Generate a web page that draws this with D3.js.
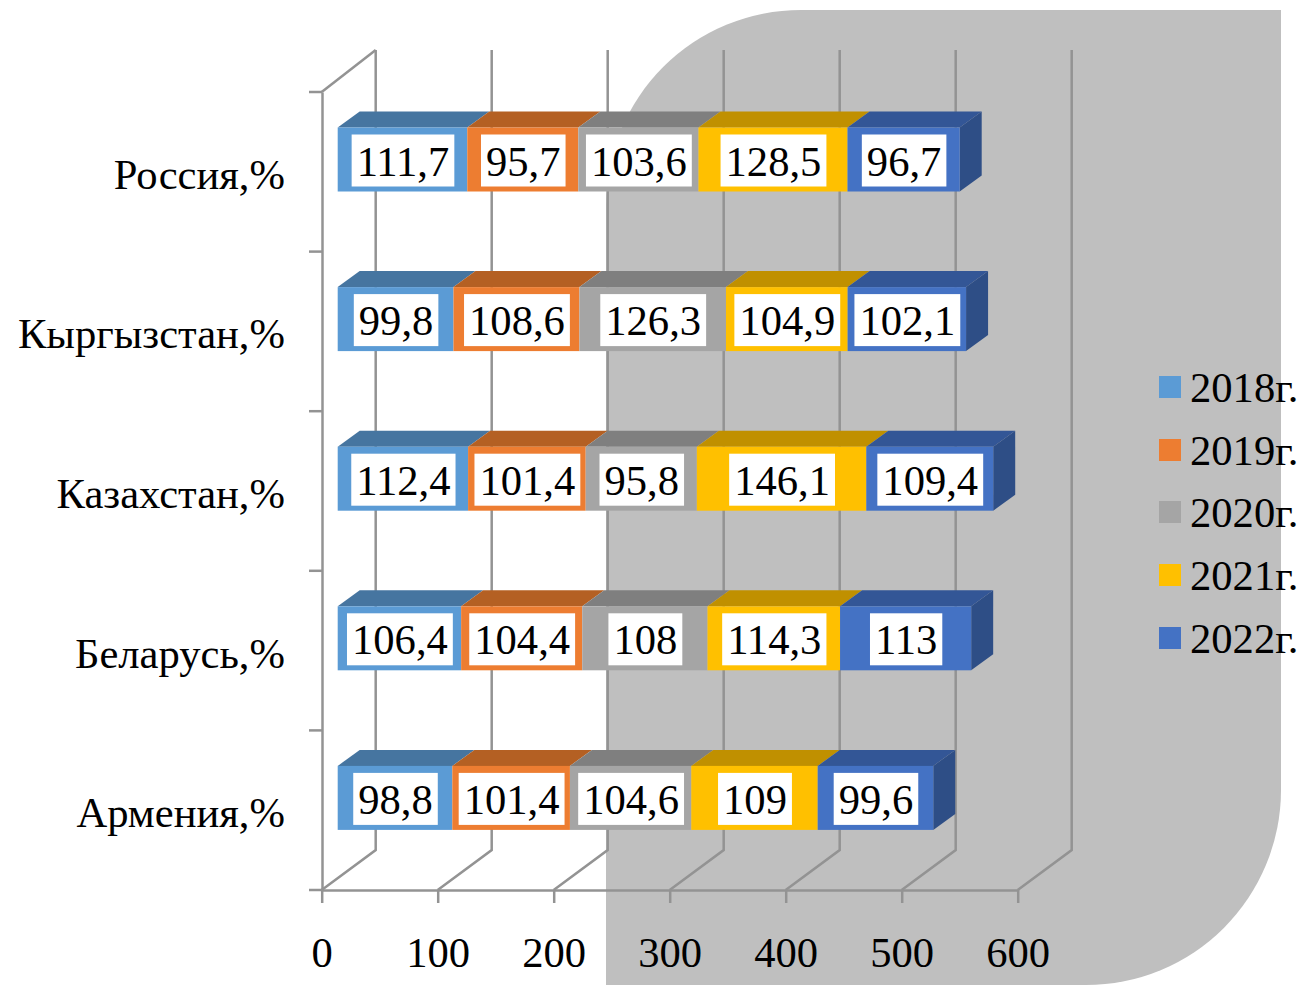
<!DOCTYPE html>
<html><head><meta charset="utf-8">
<script src="https://cdn.jsdelivr.net/npm/d3@7"></script>
<style>html,body{margin:0;padding:0;background:#fff}svg{display:block}text{font-family:"Liberation Serif",serif;fill:#000}</style>
</head><body><svg id="c" width="1304" height="985"></svg>
<script>
const categories = ["Россия,%","Кыргызстан,%","Казахстан,%","Беларусь,%","Армения,%"];
const years = ["2018г.","2019г.","2020г.","2021г.","2022г."];
const v2018 = [111.7,99.8,112.4,106.4,98.8];
const v2019 = [95.7,108.6,101.4,104.4,101.4];
const v2020 = [103.6,126.3,95.8,108,104.6];
const v2021 = [128.5,104.9,146.1,114.3,109];
const v2022 = [96.7,102.1,109.4,113,99.6];
const xTicks = [0,100,200,300,400,500,600];
const colors = ["#5b9bd5","#ed7d31","#a5a5a5","#ffc000","#4472c4"];
const topColors = ["#4675a0","#b46023","#7f7f7f","#c09000","#335696"];
const sideColors = ["#3d6a93","#a5571f","#737373","#ae8300","#2e4e86"];
const series = [v2018,v2019,v2020,v2021,v2022];
const FS = 42.6;

const svg = d3.select("#c");
svg.append("path").attr("fill","#bfbfbf").attr("d",
 "M606,985 L606,205 A195,195 0 0 1 801,10 L1281,10 L1281,790 A195,195 0 0 1 1086,985 Z");

const x = d3.scaleLinear().domain([0,600]).range([321.7,1017.7]);
const y = d3.scaleBand().domain(categories).range([92,890]);
const wall = {dx:54,dy:-40,top:50}, bar = {ox:16,oy:-12.3,dx:22,dy:-16,h:64};
const grid = "#939393", gw = 2.5;
const g = svg.append("g");
xTicks.forEach(t=>{
  g.append("path").attr("fill","none").attr("stroke",grid).attr("stroke-width",gw)
   .attr("d",`M${x(t)},890 L${x(t)+wall.dx},${890+wall.dy} L${x(t)+wall.dx},${wall.top}`);
});
g.append("path").attr("fill","none").attr("stroke",grid).attr("stroke-width",gw)
 .attr("d",`M${x(0)},92 L${x(0)+wall.dx},${wall.top}`);
const ax = svg.append("g").attr("transform","translate(0,890)").call(d3.axisBottom(x).tickValues(xTicks).tickSize(13).tickSizeOuter(0).tickPadding(32));
const ay = svg.append("g").attr("transform","translate(322,0)").call(d3.axisLeft(y).tickSize(0).tickPadding(37));
[ax,ay].forEach(a=>{a.selectAll("path,line").attr("stroke",grid).attr("stroke-width",gw);
  a.selectAll("text").attr("font-family",'"Liberation Serif",serif').attr("font-size",FS).attr("fill","#000");});
ax.selectAll("text").attr("dy",null).attr("y",null).attr("dominant-baseline","auto")
  .attr("transform","translate(0,77)");
ay.selectAll("text").attr("dy",null).attr("transform","translate(0,17)");
[...categories.map(c=>y(c)),890].forEach(p=>{
  svg.append("line").attr("x1",309).attr("x2",322).attr("y1",p).attr("y2",p).attr("stroke",grid).attr("stroke-width",gw);
});
categories.forEach((c,i)=>{
  const yc = y(c)+y.bandwidth()/2+bar.oy;
  const y0 = yc-bar.h/2, y1 = yc+bar.h/2;
  let cum=0;
  const segs = series.map((s,k)=>{const a=cum; cum+=s[i]; return {k,v:s[i],a,b:cum,
     xa:x(a)+bar.ox,xb:x(cum)+bar.ox};});
  const row = svg.append("g");
  segs.forEach(s=>{
    row.append("path").attr("fill",topColors[s.k])
      .attr("d",`M${s.xa},${y0} L${s.xa+bar.dx},${y0+bar.dy} L${s.xb+bar.dx},${y0+bar.dy} L${s.xb},${y0} Z`);
  });
  const last = segs[segs.length-1];
  row.append("path").attr("fill",sideColors[4])
    .attr("d",`M${last.xb},${y0} L${last.xb+bar.dx},${y0+bar.dy} L${last.xb+bar.dx},${y1+bar.dy} L${last.xb},${y1} Z`);
  segs.forEach(s=>{
    row.append("rect").attr("x",s.xa).attr("y",y0).attr("width",s.xb-s.xa).attr("height",bar.h).attr("fill",colors[s.k]);
  });
  segs.forEach(s=>{
    const cx=(s.xa+s.xb)/2+0.5;
    const t=row.append("text").attr("x",cx).attr("y",yc+16).attr("text-anchor","middle").attr("font-size",FS)
      .text(String(s.v).replace(".",","));
    const w=t.node().getComputedTextLength();
    row.insert("rect","text").attr("x",cx-w/2-5).attr("y",yc-25).attr("width",w+10).attr("height",52).attr("fill","#fff");
  });
});
const legY=[387,450,512,575,638];
years.forEach((l,i)=>{
  svg.append("rect").attr("x",1159).attr("y",legY[i]-11).attr("width",22).attr("height",22).attr("fill",colors[i]);
  svg.append("text").attr("x",1190).attr("y",legY[i]+15).attr("font-size",FS).text(l);
});
</script></body></html>
